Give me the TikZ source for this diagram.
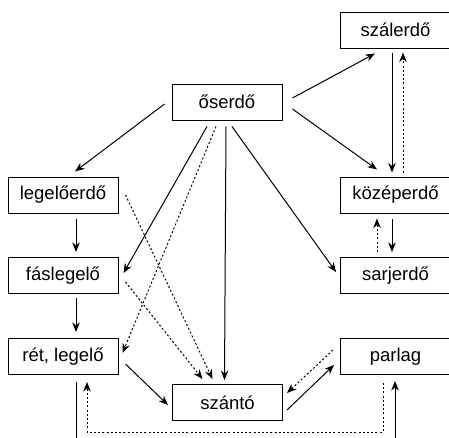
\documentclass[tikz,border=0pt]{standalone}
\usepackage{fontspec}
\setmainfont{Liberation Sans}
\usetikzlibrary{arrows.meta}

% jobb oldali dobozok szovege (a doboz jobb szele kilog a kepbol)
\newcommand{\jobbszoveg}[1]{\makebox[130pt][l]{\makebox[110pt]{#1}}}

\tikzset{
  doboz/.style={draw,line width=1pt,minimum width=110pt,minimum height=36pt,inner sep=0pt,font=\fontsize{18.5}{21}\selectfont},
  jobbdoboz/.style={doboz,minimum width=130pt,anchor=west},
  nyil/.style={line width=1pt,-{Stealth[length=9.5pt,width=7.5pt,inset=3pt]}},
  pontozott/.style={nyil,dash pattern=on 2pt off 2.2pt}
}

\begin{document}
\begin{tikzpicture}[x=1pt,y=-1pt]

	\useasboundingbox (0,0) rectangle (449,437);
	\clip (0,0) rectangle (449,437);

	% Dobozok
	\node [doboz] (oserdo) at (227,102) {őserdő};
	\node [jobbdoboz] (szalerdo) at (340,30) {\jobbszoveg{szálerdő}};
	\node [doboz] (legeloerdo) at (63,195) {legelőerdő};
	\node [jobbdoboz] (kozeperdo) at (340,195) {\jobbszoveg{középerdő}};
	\node [doboz] (faslegelo) at (63,275.5) {fáslegelő};
	\node [jobbdoboz] (sarjerdo) at (340,275.5) {\jobbszoveg{sarjerdő}};
	\node [doboz] (ret) at (63,356.5) {rét, legelő};
	\node [jobbdoboz] (parlag) at (340,356.5) {\jobbszoveg{parlag}};
	\node [doboz] (szanto) at (227.5,402.5) {szántó};

	% Oserdo nyilai
	\draw [nyil] ([xshift=10pt,yshift=4pt]oserdo.east) -- ([xshift=35pt,yshift=-5pt]szalerdo.south west);
	\draw [nyil] ([xshift=10pt,yshift=-7pt]oserdo.east) -- ([xshift=37pt,yshift=7pt]kozeperdo.north west);
	\draw [nyil] ([xshift=-7pt,yshift=-2pt]oserdo.west) -- ([xshift=12pt,yshift=5pt]legeloerdo.north);
	\draw [nyil] ([xshift=-20pt,yshift=-6pt]oserdo.south) -- ([xshift=5pt,yshift=2.5pt]faslegelo.east);
	\draw [pontozott] ([xshift=-11pt,yshift=-6pt]oserdo.south) -- ([xshift=4pt,yshift=3.5pt]ret.east);
	\draw [nyil] ([xshift=-1pt,yshift=-6pt]oserdo.south) -- ([xshift=-3pt,yshift=4pt]szanto.north);
	\draw [nyil] ([xshift=5pt,yshift=-6pt]oserdo.south) -- ([xshift=-4pt,yshift=3.5pt]sarjerdo.west);

	% Jobb oldal
	\draw [nyil] ([xshift=52pt,yshift=-4pt]szalerdo.south west) -- ([xshift=52pt,yshift=4pt]kozeperdo.north west);
	\draw [pontozott] ([xshift=63pt,yshift=4pt]kozeperdo.north west) -- ([xshift=63pt,yshift=-4pt]szalerdo.south west);
	\draw [nyil] ([xshift=52pt,yshift=-5pt]kozeperdo.south west) -- ([xshift=52pt,yshift=5pt]sarjerdo.north west);
	\draw [pontozott] ([xshift=37pt,yshift=5pt]sarjerdo.north west) -- ([xshift=37pt,yshift=-5pt]kozeperdo.south west);

	% Bal oldal
	\draw [nyil] ([xshift=13pt,yshift=-5pt]legeloerdo.south) -- ([xshift=13pt,yshift=5pt]faslegelo.north);
	\draw [nyil] ([xshift=13pt,yshift=-4pt]faslegelo.south) -- ([xshift=13pt,yshift=6pt]ret.north);
	\draw [pontozott] ([xshift=7pt]legeloerdo.east) -- ([xshift=-15pt,yshift=5pt]szanto.north);
	\draw [pontozott] ([xshift=7pt,yshift=-6.5pt]faslegelo.east) -- ([xshift=-25pt,yshift=5pt]szanto.north);

	% Szanto korul
	\draw [nyil] ([xshift=7pt,yshift=-7.5pt]ret.east) -- ([xshift=-4pt,yshift=-2.5pt]szanto.west);
	\draw [nyil] ([xshift=4pt,yshift=-7.5pt]szanto.east) -- ([xshift=-6pt,yshift=-8.5pt]parlag.west);
	\draw [pontozott] ([xshift=-7pt,yshift=6.5pt]parlag.west) -- ([xshift=4pt,yshift=9.5pt]szanto.east);

	% Also kapcsolatok
	\draw [nyil] ([xshift=13pt,yshift=-7pt]ret.south) -- ++(0,70) -| ([xshift=55pt,yshift=-6pt]parlag.south west);
	\draw [pontozott] ([xshift=43pt,yshift=-8pt]parlag.south west) -- ++(0,49) -| ([xshift=24pt,yshift=-7pt]ret.south);
\end{tikzpicture}
\end{document}
